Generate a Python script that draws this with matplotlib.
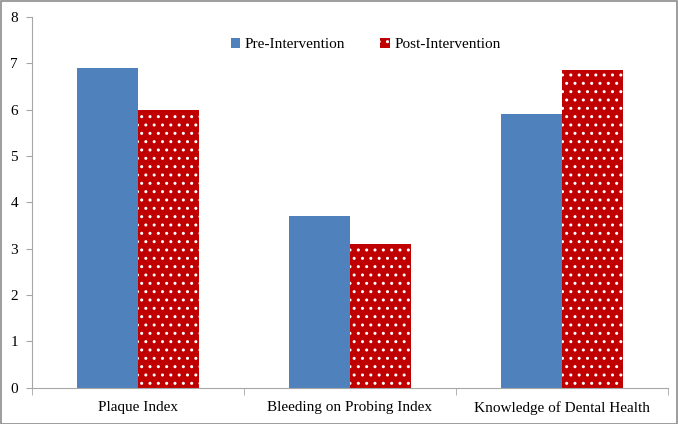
import numpy as np
import matplotlib.pyplot as plt
from matplotlib.patches import Rectangle

categories = ["Plaque Index", "Bleeding on Probing Index", "Knowledge of Dental Health"]
pre_values = [6.9, 3.7, 5.9]
post_values = [6.0, 3.1, 6.85]

plt.rcParams['font.family'] = ['Liberation Serif', 'DejaVu Serif']
plt.rcParams['hatch.color'] = 'white'
plt.rcParams['hatch.linewidth'] = 1.0

fig = plt.figure(figsize=(6.78, 4.24), dpi=100)
ax = fig.add_axes([0.047, 0.086, 0.938, 0.874])

x = np.arange(len(categories))
w = 0.288
ax.bar(x - w / 2, pre_values, w, color='#4F81BD', label='Pre-Intervention')
ax.bar(x + w / 2, post_values, w, color='#C00000', hatch='..', label='Post-Intervention')

ax.set_xlim(-0.5, 2.5)
ax.set_ylim(0, 8)
ax.set_yticks(range(0, 9))
ax.set_xticks(x)
ax.set_xticklabels(categories)
ax.set_xticks([-0.5, 0.5, 1.5, 2.5], minor=True)
ax.tick_params(axis='x', which='major', length=0, pad=10, labelsize=11)
ax.tick_params(axis='x', which='minor', length=5, color='#a6a6a6', direction='out')
ax.tick_params(axis='y', length=4, color='#a6a6a6', pad=6, labelsize=11)

for s in ['top', 'right']:
    ax.spines[s].set_visible(False)
for s in ['left', 'bottom']:
    ax.spines[s].set_color('#a6a6a6')

ax.legend(loc='center', bbox_to_anchor=(0.525, 0.925), ncol=2, frameon=False,
          fontsize=11, handlelength=0.6, handleheight=0.6, handletextpad=0.3,
          columnspacing=2.3)

fig.patches.append(Rectangle((0.001, 0.001), 0.997, 0.997, transform=fig.transFigure,
                             fill=False, edgecolor='#8c8c8c', linewidth=1.2))

fig.savefig('out.png', dpi=100)
